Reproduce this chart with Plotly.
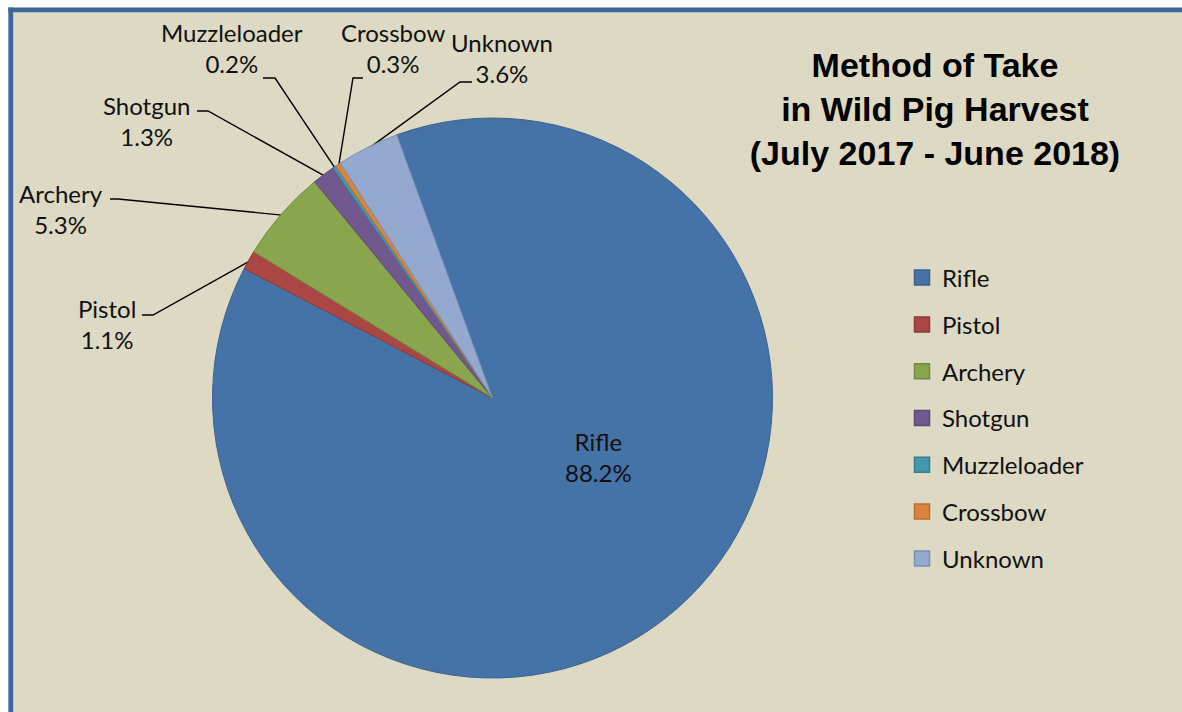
import math
import plotly.graph_objects as go

W, H = 1182, 712

# ---------------- data ----------------
categories = ["Rifle", "Pistol", "Archery", "Shotgun", "Muzzleloader", "Crossbow", "Unknown"]
percentages = [88.2, 1.1, 5.3, 1.3, 0.2, 0.3, 3.6]
title_lines = ["Method of Take", "in Wild Pig Harvest", "(July 2017 - June 2018)"]

# ---------------- style ----------------
fill_colors = ["#4572A7", "#AA4643", "#89A54E", "#71588F", "#4198AF", "#DB843D", "#93A9CF"]
edge_colors = ["#3A6291", "#8E3A37", "#728A41", "#5D4878", "#357F93", "#B96E32", "#7B8FB2"]
BG = "#DDD9C3"
BORDER = "#3B6699"
LABEL_FONT = dict(family="Lato, Open Sans, sans-serif", size=24, color="#111111")

CX, CY, R = 492.5, 398.0, 280.0   # pie centre / radius in pixels
ROTATION = -20                     # start angle of first slice (deg, clockwise from 12 o'clock)

# label placement in pixels: text centre, leader start x, elbow x, leader y
label_style = {
    "Rifle":        dict(tx=598, ty=457),
    "Pistol":       dict(tx=107, ty=324, lx0=142, lx1=153, ly=315),
    "Archery":      dict(tx=61, ty=209, lx0=110, lx1=118, ly=199),
    "Shotgun":      dict(tx=146, ty=120.5, lx0=197, lx1=208, ly=111),
    "Muzzleloader": dict(tx=232, ty=47.5, lx0=263, lx1=275, ly=78),
    "Crossbow":     dict(tx=393, ty=47.5, lx0=363, lx1=353, ly=78),
    "Unknown":      dict(tx=502, ty=58, lx0=472, lx1=460, ly=82),
}

# ---------------- figure ----------------
fig = go.Figure()

# pie
fig.add_trace(go.Pie(
    labels=categories, values=percentages, sort=False, direction="clockwise",
    rotation=ROTATION, textinfo="none", showlegend=False, hoverinfo="label+percent",
    marker=dict(colors=fill_colors, line=dict(color=edge_colors, width=1)),
    domain=dict(x=[(CX - R) / W, (CX + R) / W], y=[1 - (CY + R) / H, 1 - (CY - R) / H]),
))

# leader lines from label elbow to slice mid-angle on the rim
total = sum(percentages)
angle = ROTATION
lx, ly = [], []
annotations = []
for cat, v in zip(categories, percentages):
    span = 360.0 * v / total
    mid = math.radians(angle + span / 2)
    angle += span
    st = label_style[cat]
    annotations.append(dict(
        x=st["tx"], y=st["ty"], xref="x", yref="y", showarrow=False,
        text=f"{cat}<br>{v:.1f}%", font=LABEL_FONT, align="center",
        xanchor="center", yanchor="middle"))
    if "lx0" in st:
        px = CX + R * 0.995 * math.sin(mid)
        py = CY - R * 0.995 * math.cos(mid)
        lx += [st["lx0"], st["lx1"], px, None]
        ly += [st["ly"], st["ly"], py, None]

fig.add_trace(go.Scatter(x=lx, y=ly, mode="lines", line=dict(color="black", width=1.4),
                         showlegend=False, hoverinfo="skip"))

# legend entries
for cat, fc, ec in zip(categories, fill_colors, edge_colors):
    fig.add_trace(go.Scatter(
        x=[None], y=[None], mode="markers", name=cat, legendgroup=cat,
        marker=dict(symbol="square", size=15, color=fc, line=dict(color=ec, width=1.5)),
        hoverinfo="skip"))

# frame: white outer strip on top/left, blue border line on top/left
bx, by = 10.75 / W, 1 - 9.8 / H
shapes = [
    dict(type="rect", xref="paper", yref="paper", layer="below", x0=0, x1=1, y0=by, y1=1,
         fillcolor="white", line=dict(width=0)),
    dict(type="rect", xref="paper", yref="paper", layer="below", x0=0, x1=bx, y0=0, y1=1,
         fillcolor="white", line=dict(width=0)),
    dict(type="line", xref="paper", yref="paper", layer="below", x0=bx - 2.4 / W, x1=1, y0=by, y1=by,
         line=dict(color=BORDER, width=4.8)),
    dict(type="line", xref="paper", yref="paper", layer="below", x0=bx, x1=bx, y0=0, y1=by + 2.4 / H,
         line=dict(color=BORDER, width=4.8)),
]

fig.update_layout(
    width=W, height=H,
    margin=dict(l=0, r=0, t=0, b=0, pad=0),
    paper_bgcolor=BG, plot_bgcolor="rgba(0,0,0,0)",
    xaxis=dict(range=[0, W], visible=False, fixedrange=True),
    yaxis=dict(range=[H, 0], visible=False, fixedrange=True),
    title=dict(text="<br>".join(f"<b>{t}</b>" for t in title_lines),
               x=935 / W, xanchor="center", y=1 - 77 / H, yanchor="middle",
               font=dict(family="Liberation Sans, Arial, sans-serif", size=34, color="black")),
    legend=dict(x=902 / W, xanchor="left", y=1 - 255.5 / H, yanchor="top",
                font=LABEL_FONT, tracegroupgap=12.6, bgcolor="rgba(0,0,0,0)",
                itemclick=False, itemdoubleclick=False),
    annotations=annotations,
    shapes=shapes,
)

fig.write_html("out.html")
